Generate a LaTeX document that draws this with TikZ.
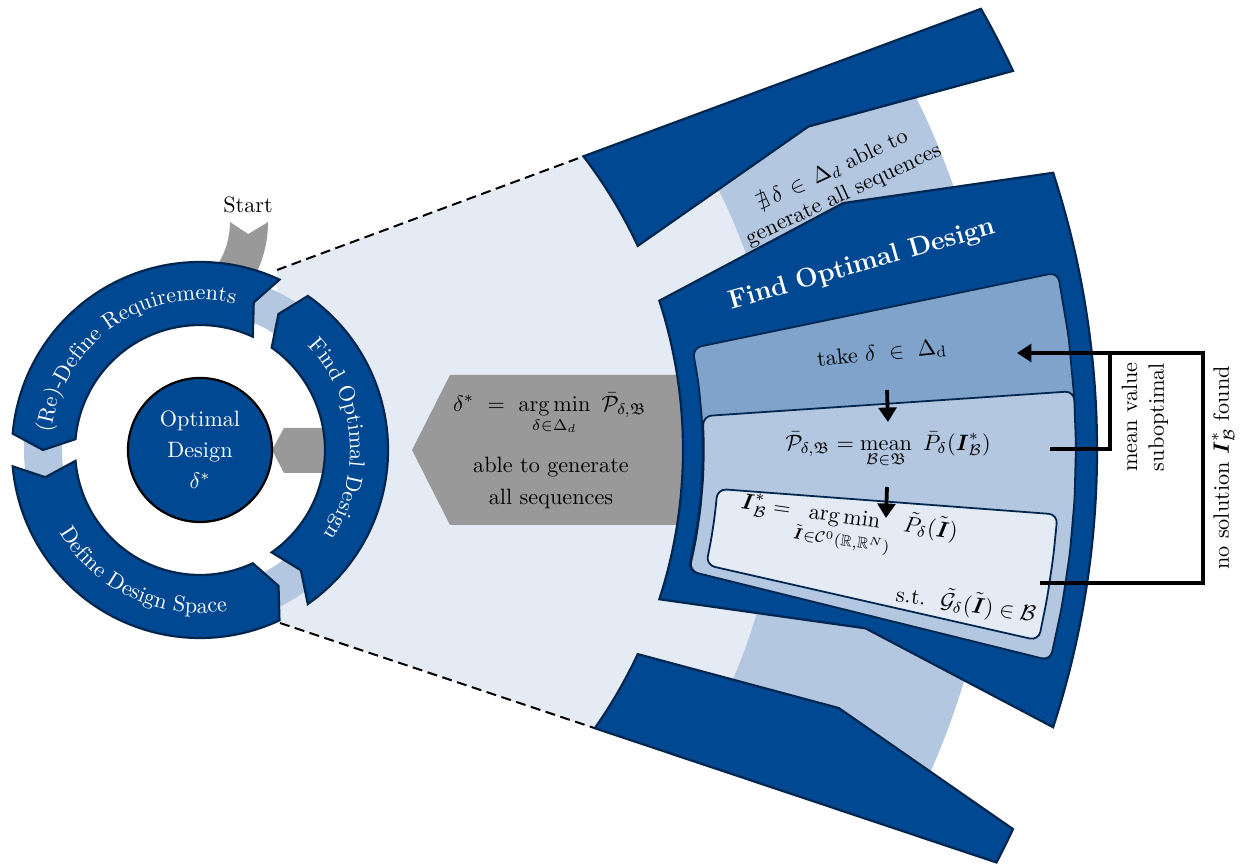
\documentclass[tikz,border=0pt]{standalone}
\usepackage{amsmath,amssymb}
\usetikzlibrary{arrows.meta,decorations.text}

\definecolor{dblue}{RGB}{0,73,146}
\definecolor{navy}{RGB}{0,38,80}
\definecolor{mblue}{RGB}{127,163,202}
\definecolor{lblue}{RGB}{179,199,224}
\definecolor{vlblue}{RGB}{228,235,245}
\definecolor{greyfill}{RGB}{153,153,153}

% ring arrow of the cycle: start angle, end angle (counter-clockwise)
\newcommand{\ringarrow}[2]{%
  \draw[seg] (#1:188) arc[start angle=#1, end angle=#2, radius=188]
    -- ({#2+5}:157) -- (#2:125) arc[start angle=#2, end angle=#1, radius=125]
    -- ({#1+5}:157) -- cycle;}

% polar panel: style, inner radius, outer radius, low angle, high angle, steps
\newcommand{\polarpanel}[6]{%
  \draw[#1] ({#4}:{(#2+#3)/2}) -- ({#4}:#3)
    \foreach \k in {1,...,#6} { -- ({(#4)+((#5)-(#4))*\k/#6}:#3) }
    -- ({#5}:#2)
    \foreach \k in {1,...,#6} { -- ({(#5)-((#5)-(#4))*\k/#6}:#2) }
    -- cycle;}

\begin{document}
\begin{tikzpicture}[x=0.45pt, y=-0.45pt,
  polar/.style={shift={(200,450)}, y=0.45pt},
  seg/.style={fill=dblue, draw=navy, line width=1pt},
  panel/.style={draw=navy, line width=0.8pt, rounded corners=4pt},
  fb/.style={line width=1.7pt, line join=miter},
  tip/.style={-{Triangle[length=6.5pt,width=8pt]}},
  zoomline/.style={dash pattern=on 4.5pt off 2.5pt, line width=0.9pt},
  ringlabel/.style={decorate, decoration={text along path,
      text={|\color{white}|#1}, text align=center}},
  txt/.style={inner sep=0pt, align=center}]
\useasboundingbox (0,0) rectangle (1242,864);

% ---------- magnified view ----------
\begin{scope}[polar]
  \begin{scope}
    \clip (77,180) -- (1100,559.4) -- (1100,-514) -- (80,-173) -- cycle;
    \fill[vlblue, even odd rule] (0,0) circle (798) (0,0) circle (176);
    \fill[lblue, even odd rule] (0,0) circle (798) (0,0) circle (580);
  \end{scope}
  \coordinate (zt0) at (77,180);
  \coordinate (zt1) at (37.45:483);
  \coordinate (zb0) at (80,-173);
  \coordinate (zb1) at (-35.17:483);
  \draw[zoomline] (zt0) -- (zt1);
  \draw[zoomline] (zb0) -- (zb1);
\end{scope}

% result arrow
\fill[greyfill] (412,450) -- (450,375) -- (700,375) -- (700,525) -- (450,525) -- cycle;
\node[txt] (dstar) at (550,414)
  {$\displaystyle \delta^*\ =\ \operatorname*{arg\,min}_{\delta\in\Delta_d}\ \bar{\mathcal{P}}_{\delta,\mathfrak{B}}$};
\node[txt] (able) at (551,483) {able to generate\\[2pt]all sequences};

\begin{scope}[polar]
  % neighbouring steps
  \draw[seg] (25:483) -- (28:689) -- (25:897) arc[start angle=25, end angle=29.46, radius=897]
    -- (37.45:483) arc[start angle=37.45, end angle=25, radius=483] -- cycle;
  \draw[seg] (-25:483) -- (-22:689) -- (-25:897) arc[start angle=-25, end angle=-27.38, radius=897]
    -- (-35.17:483) arc[start angle=-35.17, end angle=-25, radius=483] -- cycle;
  % optimisation step
  \draw[seg] (18:483) -- (21:689) -- (18:897) arc[start angle=18, end angle=-18, radius=897]
    -- (-15:689) -- (-18:483) arc[start angle=-18, end angle=18, radius=483] -- cycle;
  \polarpanel{panel, fill=mblue}{503}{876}{-13.9}{11.7}{6}
  \polarpanel{panel, fill=lblue}{504}{876}{-13.9}{3.85}{5}
  \polarpanel{panel, fill=vlblue}{519}{860}{-12.8}{-4.3}{3}
\end{scope}

\node[txt, rotate=25] (nexist) at (838,183)
  {$\nexists\,\delta\,\in\,\Delta_d$ able to\\generate all sequences};
\node[txt, rotate=16, text=white, font=\large\bfseries] (title) at (862,265) {Find Optimal Design};
\node[txt, rotate=6] (take) at (882,354) {take $\delta\ \in\ \Delta_{\mathrm{d}}$};
\node[txt] (mean) at (888,450)
  {$\displaystyle \bar{\mathcal{P}}_{\delta,\mathfrak{B}} = \operatorname*{mean}_{\mathcal{B}\in\mathfrak{B}}\ \bar{P}_\delta(\boldsymbol{I}^*_{\mathcal{B}})$};
\node[txt, rotate=-8] (argmin) at (848,528)
  {$\displaystyle \boldsymbol{I}^*_{\mathcal{B}} = \operatorname*{arg\,min}_{\tilde{\boldsymbol{I}}\in\mathcal{C}^0(\mathbb{R},\mathbb{R}^N)}\ \tilde{P}_\delta(\tilde{\boldsymbol{I}})$};
\node[txt, rotate=-8] (st) at (966,604)
  {s.t.\ \ $\tilde{\mathcal{G}}_\delta(\tilde{\boldsymbol{I}})\in\mathcal{B}$};

% flow inside the step
\coordinate (d1a) at (887,390);
\coordinate (d1b) at (888,422);
\coordinate (d2a) at (887,487);
\coordinate (d2b) at (886,518);
\draw[fb, tip] (d1a) -- (d1b);
\draw[fb, tip] (d2a) -- (d2b);

% feedback loops
\coordinate (mvout) at (1050,449);
\coordinate (mvup) at (1110,353);
\coordinate (nsout) at (1040,583);
\coordinate (nsup) at (1203,583);
\coordinate (takein) at (1017,353);
\draw[fb] (mvout) -| (mvup);
\draw[fb, tip] (nsout) -- (nsup) |- (takein);
\node[txt, rotate=90] (mvlab) at (1145,417) {mean value\\suboptimal};
\node[txt, rotate=90] (nslab) at (1223,468) {no solution $\boldsymbol{I}^*_{\mathcal{B}}$ found};

% ---------- design cycle ----------
\begin{scope}[polar]
  \fill[lblue, even odd rule] (0,0) circle (176) (0,0) circle (138);
\end{scope}
\begin{scope}[shift={(150,222)}, y=0.45pt]
  \fill[greyfill] (0:80) -- (-7:99) -- (0:118) arc[start angle=0, end angle=-50, radius=118]
    -- (-50:80) arc[start angle=-50, end angle=0, radius=80] -- cycle;
\end{scope}
\node[txt] (start) at (248,205) {Start};
\fill[greyfill] (272,450) -- (284,428) -- (330,428) -- (330,473) -- (284,473) -- cycle;

\begin{scope}[polar]
  \ringarrow{-55}{55}
  \ringarrow{65}{175}
  \ringarrow{185}{295}
  \path[ringlabel={(Re)-Define Requirements}] (180:150) arc[start angle=180, end angle=70, radius=150];
  \path[ringlabel={Find Optimal Design}] (60:150) arc[start angle=60, end angle=-50, radius=150];
  \path[ringlabel={Define Design Space}] (190:163) arc[start angle=190, end angle=300, radius=163];
\end{scope}

\node[circle, fill=dblue, draw=black, line width=1pt, minimum size=64.8pt,
  text=white, align=center, inner sep=0pt, font=\fontsize{10}{14}\selectfont]
  (core) at (200,450) {Optimal\\Design\\$\delta^*$};
\end{tikzpicture}
\end{document}
